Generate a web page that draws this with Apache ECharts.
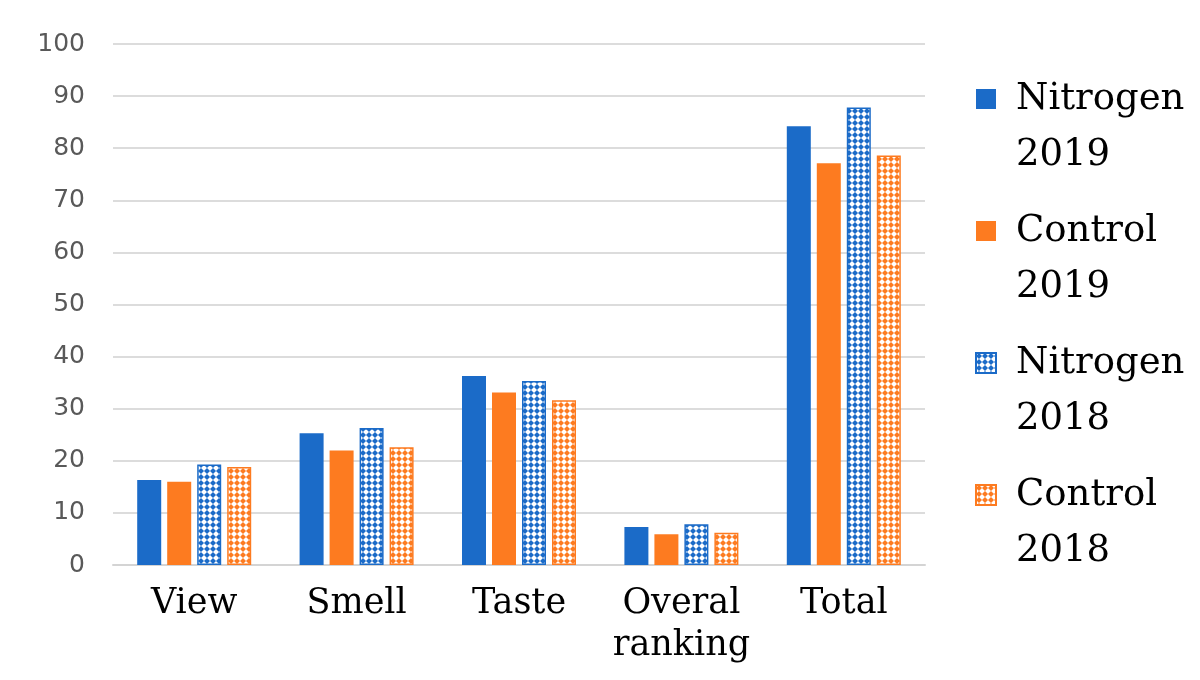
<!DOCTYPE html>
<html lang="en">
<head>
    <meta charset="UTF-8">
    <title>Sensory evaluation</title>
    <script src="https://cdn.jsdelivr.net/npm/echarts@6/dist/echarts.min.js"></script>
    <style>
        html, body { margin: 0; padding: 0; background: #fff; }
        #main { width: 1200px; height: 680px; }
    </style>
</head>
<body>
<div id="main"></div>
<script>
    var categories = ['View', 'Smell', 'Taste', 'Overal\nranking', 'Total'];
    var seriesNames = ['Nitrogen 2019', 'Control 2019', 'Nitrogen 2018', 'Control 2018'];
    var nitrogen2019 = [16.3, 25.3, 36.3, 7.3, 84.2];
    var control2019 = [16.0, 22.0, 33.1, 5.9, 77.1];
    var nitrogen2018 = [19.3, 26.3, 35.3, 7.8, 87.8];
    var control2018 = [18.8, 22.6, 31.6, 6.2, 78.6];

    var BLUE = '#1b6bc8';
    var ORANGE = '#fd7b20';

    // rotated checker tile, like the office "dotted diamond" fill
    function makePattern(color) {
        var s = 6;
        var c = document.createElement('canvas');
        c.width = s;
        c.height = s;
        var ctx = c.getContext('2d');
        ctx.fillStyle = '#fff';
        ctx.fillRect(0, 0, s, s);
        ctx.fillStyle = color;
        ctx.beginPath();
        ctx.moveTo(s / 2, 0);
        ctx.lineTo(s, s / 2);
        ctx.lineTo(s / 2, s);
        ctx.lineTo(0, s / 2);
        ctx.closePath();
        ctx.fill();
        return { image: c, repeat: 'repeat' };
    }

    function bar(name, data, color, patterned) {
        return {
            name: name,
            type: 'bar',
            data: data,
            barWidth: 24,
            barGap: '25%',
            itemStyle: patterned ? {
                color: makePattern(color),
                borderColor: color,
                borderWidth: 1.5
            } : { color: color },
            emphasis: { disabled: true }
        };
    }

    var myChart = echarts.init(document.getElementById('main'));
    myChart.setOption({
        animation: false,
        grid: { left: 113, right: 275, top: 44, bottom: 115 },
        legend: {
            orient: 'vertical',
            left: 970,
            top: 10,
            itemWidth: 20,
            itemHeight: 20,
            itemGap: -36,
            icon: 'rect',
            // empty first line so the icon sits beside the first text line
            formatter: function (n) { return '\n' + n.replace(' ', '\n'); },
            textStyle: {
                fontFamily: 'DejaVu Serif',
                fontSize: 37,
                lineHeight: 56,
                color: '#000',
                padding: [0, 0, 0, 15]
            }
        },
        xAxis: {
            type: 'category',
            data: categories,
            axisTick: { show: false },
            axisLine: { lineStyle: { color: '#d4d4d4', width: 2 } },
            axisLabel: {
                interval: 0,
                color: '#000',
                fontFamily: 'DejaVu Serif',
                fontSize: 35,
                lineHeight: 42,
                margin: 18
            }
        },
        yAxis: {
            type: 'value',
            min: 0,
            max: 100,
            interval: 10,
            axisLine: { show: false },
            axisTick: { show: false },
            splitLine: { lineStyle: { color: '#dcdcdc', width: 2 } },
            axisLabel: {
                color: '#595959',
                fontFamily: 'DejaVu Sans',
                fontSize: 25,
                margin: 28
            }
        },
        series: [
            bar(seriesNames[0], nitrogen2019, BLUE, false),
            bar(seriesNames[1], control2019, ORANGE, false),
            bar(seriesNames[2], nitrogen2018, BLUE, true),
            bar(seriesNames[3], control2018, ORANGE, true)
        ]
    });
</script>
</body>
</html>
